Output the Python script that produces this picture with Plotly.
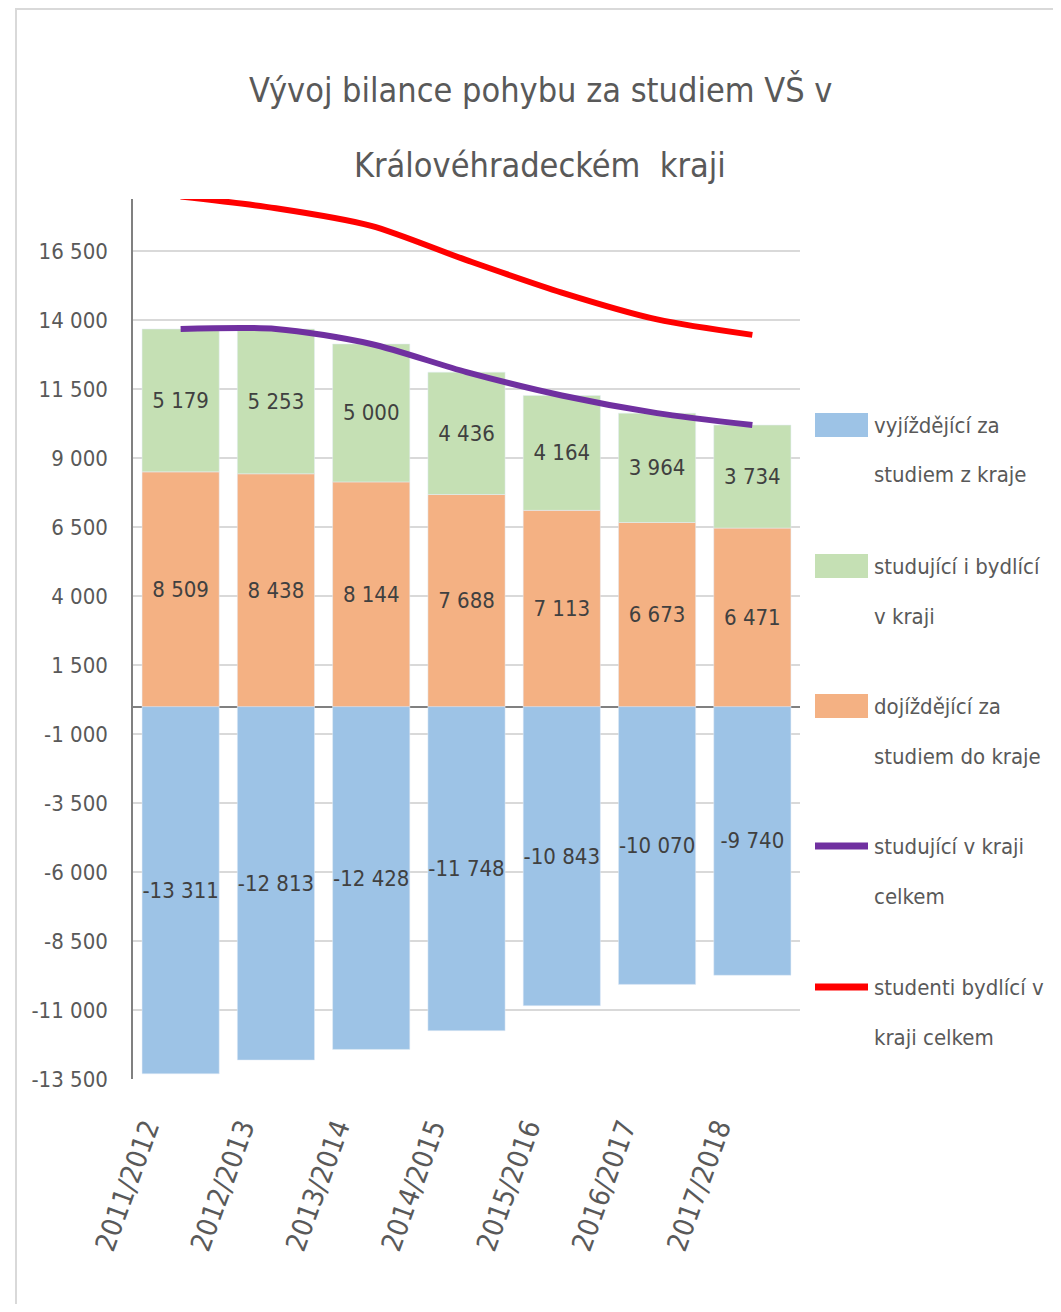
import plotly.graph_objects as go

years = ["2011/2012", "2012/2013", "2013/2014", "2014/2015", "2015/2016", "2016/2017", "2017/2018"]
vyjizdejici = [-13311, -12813, -12428, -11748, -10843, -10070, -9740]
dojizdejici = [8509, 8438, 8144, 7688, 7113, 6673, 6471]
studujici_bydlici = [5179, 5253, 5000, 4436, 4164, 3964, 3734]
studujici_celkem = [13688, 13691, 13144, 12124, 11277, 10637, 10205]
studenti_bydlici_celkem = [18490, 18066, 17428, 16184, 15007, 14034, 13474]

tick_vals = [-13500, -11000, -8500, -6000, -3500, -1000, 1500, 4000, 6500, 9000, 11500, 14000, 16500]
tick_labels = ["-13 500", "-11 000", "-8 500", "-6 000", "-3 500", "-1 000", "1 500", "4 000",
               "6 500", "9 000", "11 500", "14 000", "16 500"]

FONT = "Liberation Sans Narrow, DejaVu Sans Condensed, sans-serif"
GREY = "#595959"
LABEL = "#404040"
C_BLUE, C_GREEN, C_ORANGE, C_PURPLE, C_RED = "#9dc3e6", "#c5e0b4", "#f4b183", "#7030a0", "#ff0000"


def fmt(v):
    return f"{v:,}".replace(",", " ")


OFF = 8  # page body margin
W, H = 1061 - 2 * OFF, 1312 - 2 * OFF
# plot area in reference pixels
L, R, T, B = 133, 800, 199, 1079


def px(x):
    return (x - L) / (R - L)


def py(y):
    return (B - y) / (B - T)


fig = go.Figure()
bar_common = dict(textposition="inside", insidetextanchor="middle", textangle=0,
                  constraintext="none", textfont=dict(family=FONT, size=22, color=LABEL),
                  showlegend=False, hoverinfo="skip")
fig.add_trace(go.Bar(x=years, y=vyjizdejici, marker_color=C_BLUE,
                     text=[fmt(v) for v in vyjizdejici], name="vyjíždějící za studiem z kraje", **bar_common))
fig.add_trace(go.Bar(x=years, y=dojizdejici, marker_color=C_ORANGE,
                     text=[fmt(v) for v in dojizdejici], name="dojíždějící za studiem do kraje", **bar_common))
fig.add_trace(go.Bar(x=years, y=studujici_bydlici, marker_color=C_GREEN,
                     text=[fmt(v) for v in studujici_bydlici], name="studující i bydlící v kraji", **bar_common))
fig.add_trace(go.Scatter(x=years, y=studujici_celkem, mode="lines",
                         line=dict(color=C_PURPLE, width=6, shape="spline", smoothing=0.8),
                         name="studující v kraji celkem", showlegend=False, cliponaxis=False))
fig.add_trace(go.Scatter(x=years, y=studenti_bydlici_celkem, mode="lines",
                         line=dict(color=C_RED, width=6, shape="spline", smoothing=0.8),
                         name="studenti bydlící v kraji celkem", showlegend=False, cliponaxis=False))

shapes = []
annotations = []

# frame
shapes.append(dict(type="rect", xref="paper", yref="paper", x0=px(16), x1=px(1100), y0=py(1350), y1=py(9),
                   line=dict(color="#d9d9d9", width=2), fillcolor="rgba(0,0,0,0)", layer="below"))

# title
annotations.append(dict(text="Vývoj bilance pohybu za studiem VŠ v", xref="paper", yref="paper",
                        x=px(540), y=py(90), xanchor="center", yanchor="middle", showarrow=False,
                        font=dict(family=FONT, size=34, color=GREY)))
annotations.append(dict(text="Královéhradeckém  kraji", xref="paper", yref="paper",
                        x=px(540), y=py(165), xanchor="center", yanchor="middle", showarrow=False,
                        font=dict(family=FONT, size=34, color=GREY)))

# custom legend
legend_items = [
    ("rect", C_BLUE, 425, ["vyjíždějící za", "studiem z kraje"]),
    ("rect", C_GREEN, 566, ["studující i bydlící", "v kraji"]),
    ("rect", C_ORANGE, 706, ["dojíždějící za", "studiem do kraje"]),
    ("line", C_PURPLE, 846, ["studující v kraji", "celkem"]),
    ("line", C_RED, 987, ["studenti bydlící v", "kraji celkem"]),
]
for kind, col, yc, lines in legend_items:
    if kind == "rect":
        shapes.append(dict(type="rect", xref="paper", yref="paper", x0=px(815), x1=px(868),
                           y0=py(yc + 12), y1=py(yc - 12), fillcolor=col, line=dict(width=0)))
    else:
        shapes.append(dict(type="line", xref="paper", yref="paper", x0=px(815), x1=px(868),
                           y0=py(yc), y1=py(yc), line=dict(color=col, width=7)))
    for i, t in enumerate(lines):
        annotations.append(dict(text=t, xref="paper", yref="paper", x=px(872), y=py(yc + 50 * i),
                                xanchor="left", yanchor="middle", showarrow=False,
                                font=dict(family=FONT, size=22, color=GREY)))

fig.update_layout(
    width=W, height=H,
    margin=dict(l=L - OFF, r=W - (R - OFF), t=T - OFF, b=H - (B - OFF), autoexpand=False),
    paper_bgcolor="white", plot_bgcolor="white",
    barmode="relative", bargap=0.19,
    font=dict(family=FONT, color=GREY),
    shapes=shapes, annotations=annotations,
    showlegend=False,
)
fig.update_yaxes(range=[-13500, 18400], tickvals=tick_vals, ticktext=tick_labels,
                 tickfont=dict(family=FONT, size=22, color=GREY),
                 showgrid=True, gridcolor="#d9d9d9", gridwidth=1.5,
                 zeroline=True, zerolinecolor="#808080", zerolinewidth=2,
                 showline=True, linecolor="#808080", linewidth=1.5,
                 ticks="", ticklabelstandoff=19)
fig.update_xaxes(tickangle=-70, tickfont=dict(family=FONT, size=28, color=GREY),
                 showline=False, showgrid=False, ticks="", ticklabelstandoff=26, ticklabelshift=-34)

fig.write_html("out.html")
